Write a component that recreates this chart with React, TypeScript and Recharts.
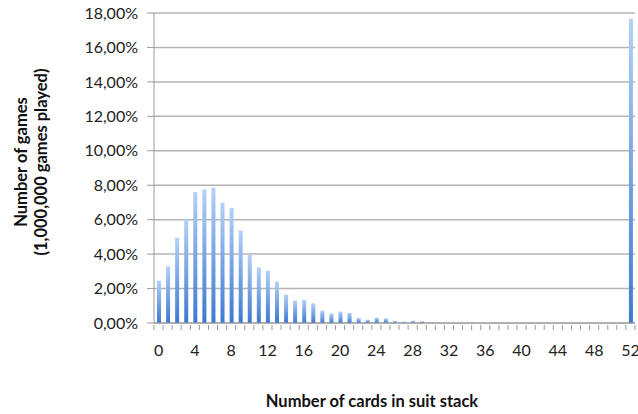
import React from 'react';
import { BarChart, Bar, XAxis, YAxis, CartesianGrid, Label } from 'recharts';

// number of cards that ended up in the suit stacks
const cards = [
  0, 1, 2, 3, 4, 5, 6, 7, 8, 9, 10, 11, 12, 13, 14, 15, 16, 17, 18, 19, 20, 21, 22, 23, 24, 25, 26,
  27, 28, 29, 30, 31, 32, 33, 34, 35, 36, 37, 38, 39, 40, 41, 42, 43, 44, 45, 46, 47, 48, 49, 50, 51, 52,
];

// share of games (%)
const share = [
  2.46, 3.29, 4.94, 6.05, 7.6, 7.75, 7.85, 6.98, 6.69, 5.37, 3.97, 3.23, 3.04, 2.4, 1.65, 1.3, 1.34,
  1.14, 0.72, 0.56, 0.66, 0.58, 0.29, 0.19, 0.31, 0.27, 0.12, 0.08, 0.13, 0.1, 0.04, 0.03, 0.03, 0.02,
  0.02, 0.01, 0.01, 0.01, 0.01, 0.01, 0.01, 0.01, 0.01, 0.01, 0.01, 0.01, 0.01, 0.01, 0.01, 0.01, 0.01,
  0.01, 17.67,
];

const yTicks = [0, 2, 4, 6, 8, 10, 12, 14, 16, 18];

const data = cards.map((c, i) => ({ cards: c, share: share[i] }));

const FONT = 'Lato, "Open Sans", sans-serif';
const HALF_BAND = 481 / 53 / 2;

const fmtPct = (v: number) => v.toFixed(2).replace('.', ',') + '%';

const XTick = (props: any) => {
  const { x, y, payload, index } = props;
  const v = Number(payload.value);
  return (
    <g>
      {index === 0 && (
        <line x1={x - HALF_BAND} x2={x - HALF_BAND} y1={y} y2={y + 5} stroke="#9a9a9a" />
      )}
      <line x1={x + HALF_BAND} x2={x + HALF_BAND} y1={y} y2={y + 5} stroke="#9a9a9a" />
      {v % 4 === 0 && (
        <text x={x} y={y + 31} textAnchor="middle" fontSize={16} fill="#222" fontFamily={FONT}>
          {v}
        </text>
      )}
    </g>
  );
};

const YTitle = () => (
  <text
    transform="translate(31,162) rotate(-90)"
    textAnchor="middle"
    fontFamily={FONT}
    fontSize={16.5}
    fontWeight="bold"
    fill="#111"
  >
    <tspan x={0} dy={-4}>Number of games</tspan>
    <tspan x={0} dy={20}>(1,000,000 games played)</tspan>
  </text>
);

const XTitle = () => (
  <text
    x={372}
    y={407}
    textAnchor="middle"
    fontFamily={FONT}
    fontSize={16.5}
    fontWeight="bold"
    fill="#111"
  >
    Number of cards in suit stack
  </text>
);

export default function App() {
  return (
    <div style={{ position: 'absolute', left: 0, top: 0, width: 638, height: 414, background: '#fff' }}>
      <BarChart
        width={638}
        height={414}
        data={data}
        margin={{ top: 13, right: 3, left: 0, bottom: 0 }}
        barCategoryGap={0}
      >
        <defs>
          <linearGradient id="barFill" x1="0" y1="0" x2="0" y2="1">
            <stop offset="0%" stopColor="#b4d0f6" />
            <stop offset="100%" stopColor="#3b79d2" />
          </linearGradient>
        </defs>
        <CartesianGrid vertical={false} stroke="#b4b4b4" strokeWidth={1.5} />
        <XAxis
          dataKey="cards"
          interval={0}
          height={91}
          tickLine={false}
          tickSize={0}
          axisLine={{ stroke: '#9a9a9a' }}
          tick={<XTick />}
        >
          <Label content={<XTitle />} />
        </XAxis>
        <YAxis
          width={154}
          domain={[0, 18]}
          ticks={yTicks}
          interval={0}
          tickFormatter={fmtPct}
          tickSize={7}
          tickMargin={9}
          tickLine={{ stroke: '#9a9a9a' }}
          axisLine={{ stroke: '#9a9a9a' }}
          tick={{ fontFamily: FONT, fontSize: 16, fill: '#222' }}
          label={<YTitle />}
        />
        <Bar dataKey="share" fill="url(#barFill)" barSize={4} isAnimationActive={false} />
      </BarChart>
    </div>
  );
}
